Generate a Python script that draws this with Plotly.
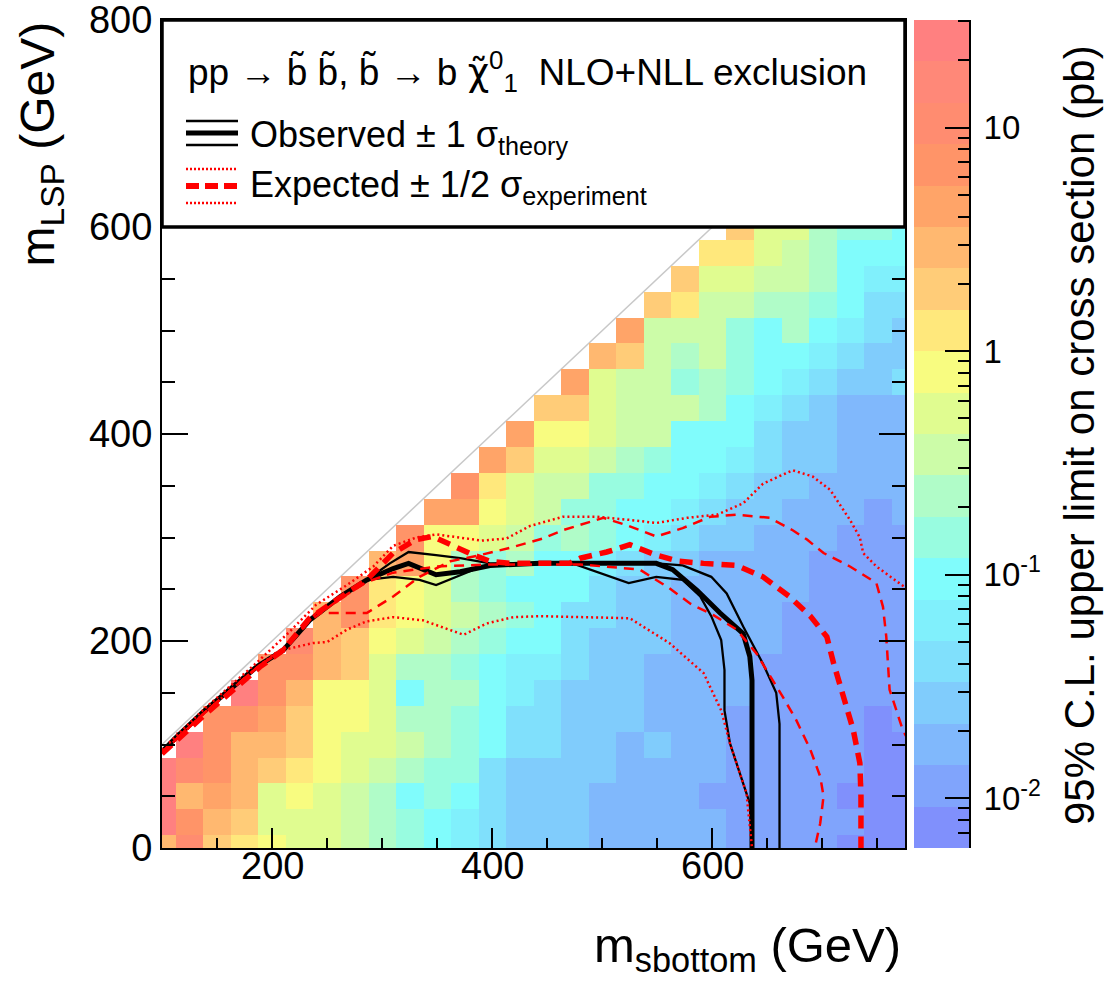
import numpy as np
import plotly.graph_objects as go

FONT = "Liberation Sans, Arial, Helvetica, sans-serif"

# ---------------- data ----------------
m_sbottom = [100, 125, 150, 175, 200, 225, 250, 275, 300, 325, 350, 375, 400, 425,
             450, 475, 500, 525, 550, 575, 600, 625, 650, 675, 700, 725, 750, 775]
m_lsp = [0, 25, 50, 75, 100, 125, 150, 175, 200, 225, 250, 275, 300, 325, 350, 375,
         400, 425, 450, 475, 500, 525, 550, 575, 600]
x_tick_vals = [200, 400, 600]
y_tick_vals = [0, 200, 400, 600, 800]

# 95% CL upper limit on cross section (pb); rows = m_lsp, cols = m_sbottom
xsec_limit = [
    [2.9, 10.4, 1.9, 1.24, 0.81, 0.53, 0.53, 0.34, 0.225, 0.147, 0.096, 0.062, 0.041, 0.027, 0.027, 0.027, 0.0174, 0.0174, 0.0174, 0.0174, 0.0174, 0.0113, 0.0113, 0.0113, 0.0113, 0.0074, 0.0074, 0.0074],
    [24.5, 6.8, 2.9, 1.9, 0.53, 0.53, 0.53, 0.34, 0.225, 0.147, 0.096, 0.062, 0.041, 0.027, 0.027, 0.027, 0.0174, 0.0174, 0.0174, 0.0174, 0.0174, 0.0113, 0.0113, 0.0113, 0.0113, 0.0113, 0.0074, 0.0074],
    [24.5, 2.9, 4.5, 2.9, 0.53, 0.81, 0.53, 0.34, 0.225, 0.096, 0.147, 0.096, 0.041, 0.027, 0.027, 0.027, 0.0174, 0.0174, 0.0174, 0.0174, 0.0113, 0.0113, 0.0113, 0.0113, 0.0113, 0.0074, 0.0074, 0.0074],
    [24.5, 10.4, 6.8, 2.9, 1.9, 1.24, 0.81, 0.53, 0.34, 0.225, 0.147, 0.147, 0.041, 0.027, 0.027, 0.027, 0.027, 0.0174, 0.0174, 0.0174, 0.0174, 0.0113, 0.0113, 0.0113, 0.0113, 0.0113, 0.0074, 0.0074],
    [None, 24.5, 6.8, 2.9, 2.9, 1.9, 0.81, 0.53, 0.53, 0.34, 0.225, 0.147, 0.096, 0.041, 0.041, 0.027, 0.027, 0.0174, 0.027, 0.0174, 0.0174, 0.0113, 0.0113, 0.0113, 0.0113, 0.0113, 0.0074, 0.0074],
    [None, None, 6.8, 6.8, 4.5, 1.9, 0.81, 0.81, 0.53, 0.225, 0.225, 0.147, 0.096, 0.041, 0.041, 0.027, 0.027, 0.027, 0.0174, 0.0174, 0.0174, 0.0113, 0.0113, 0.0113, 0.0113, 0.0113, 0.0074, 0.0113],
    [None, None, None, 24.5, 6.8, 2.9, 0.81, 0.81, 0.53, 0.096, 0.225, 0.225, 0.096, 0.062, 0.041, 0.027, 0.027, 0.027, 0.0174, 0.0174, 0.0174, 0.0174, 0.0113, 0.0113, 0.0113, 0.0113, 0.0113, 0.0113],
    [None] * 4 + [6.8, 6.8, 2.9, 1.9, 0.53, 0.225, 0.225, 0.147, 0.096, 0.062, 0.062, 0.041, 0.027, 0.027, 0.0174, 0.0174, 0.0174, 0.0174, 0.0113, 0.0113, 0.0113, 0.0113, 0.0113, 0.0113],
    [None] * 5 + [10.4, 2.9, 1.9, 0.81, 0.53, 0.34, 0.225, 0.147, 0.096, 0.096, 0.041, 0.027, 0.027, 0.027, 0.0174, 0.0174, 0.0174, 0.0174, 0.0113, 0.0113, 0.0113, 0.0113, 0.0113],
    [None] * 6 + [2.9, 6.8, 1.24, 0.81, 0.53, 0.34, 0.225, 0.147, 0.096, 0.041, 0.041, 0.027, 0.027, 0.0174, 0.0174, 0.0174, 0.0174, 0.0113, 0.0113, 0.0113, 0.0113, 0.0113],
    [None] * 7 + [6.8, 1.24, 0.81, 0.53, 0.225, 0.147, 0.096, 0.096, 0.096, 0.041, 0.027, 0.027, 0.0174, 0.0174, 0.0174, 0.0174, 0.0174, 0.0113, 0.0113, 0.0113, 0.0113],
    [None] * 8 + [2.9, 4.5, 0.81, 0.225, 0.147, 0.225, 0.096, 0.096, 0.062, 0.041, 0.027, 0.027, 0.0174, 0.0174, 0.0174, 0.0174, 0.0113, 0.0113, 0.0113, 0.0113],
    [None] * 9 + [6.8, 0.81, 0.81, 0.53, 0.34, 0.147, 0.225, 0.147, 0.096, 0.062, 0.041, 0.027, 0.027, 0.0174, 0.0174, 0.0174, 0.0113, 0.0113, 0.0113],
    [None] * 10 + [4.5, 4.5, 0.81, 0.53, 0.34, 0.147, 0.147, 0.096, 0.096, 0.062, 0.041, 0.027, 0.027, 0.0174, 0.0174, 0.0174, 0.0113, 0.0174],
    [None] * 11 + [6.8, 1.24, 0.53, 0.34, 0.34, 0.147, 0.147, 0.096, 0.096, 0.062, 0.041, 0.027, 0.027, 0.0174, 0.0174, 0.0174, 0.0174],
    [None] * 12 + [4.5, 1.9, 0.53, 0.53, 0.34, 0.225, 0.147, 0.096, 0.096, 0.062, 0.041, 0.027, 0.027, 0.0174, 0.0174, 0.0174],
    [None] * 13 + [4.5, 0.81, 0.81, 0.53, 0.34, 0.34, 0.096, 0.096, 0.096, 0.041, 0.027, 0.027, 0.0174, 0.0174, 0.0174],
    [None] * 14 + [1.9, 1.9, 0.53, 0.34, 0.34, 0.34, 0.225, 0.096, 0.062, 0.041, 0.027, 0.0174, 0.0174, 0.0174],
    [None] * 15 + [4.5, 0.53, 0.34, 0.34, 0.147, 0.225, 0.147, 0.096, 0.062, 0.041, 0.027, 0.027, 0.041],
    [None] * 16 + [2.9, 1.9, 0.34, 0.225, 0.34, 0.147, 0.096, 0.096, 0.062, 0.041, 0.027, 0.027],
    [None] * 17 + [4.5, 0.34, 0.34, 0.34, 0.147, 0.096, 0.225, 0.096, 0.062, 0.041, 0.027],
    [None] * 18 + [1.9, 1.24, 0.34, 0.34, 0.225, 0.225, 0.147, 0.096, 0.041, 0.041],
    [None] * 19 + [1.9, 0.53, 0.53, 0.34, 0.34, 0.225, 0.096, 0.062, 0.062],
    [None] * 20 + [1.24, 1.24, 0.53, 0.34, 0.225, 0.096, 0.096, 0.096],
    [None] * 21 + [1.9, 0.53, 0.53, 0.225, 0.147, 0.147, 0.096],
]

# exclusion contours (m_sbottom, m_lsp) in GeV
obs_x = [100, 112, 137, 162, 186, 210, 234, 262, 286, 310, 324, 349, 371, 398, 443, 500, 549, 564, 586, 607, 628, 634, 636, 636]
obs_y = [93, 106, 131, 153, 175, 191, 220, 243, 259, 270, 275, 264, 267, 273, 275, 275, 275, 269, 249, 227, 207, 185, 162, 0]

obs_up_x = [100, 112, 137, 162, 186, 210, 234, 262, 286, 307, 324, 349, 371, 398, 500, 549, 573, 599, 613, 628, 646, 658, 661, 661]
obs_up_y = [93, 106, 131, 153, 175, 191, 220, 243, 259, 275, 286, 283, 280, 275, 275, 275, 273, 262, 246, 214, 178, 150, 120, 0]

obs_dn_x = [100, 112, 137, 162, 186, 210, 234, 262, 286, 310, 334, 349, 365, 386, 401, 473, 524, 549, 573, 589, 599, 608, 611, 611, 616, 629, 634, 636]
obs_dn_y = [93, 106, 131, 153, 175, 191, 220, 243, 259, 262, 259, 254, 261, 270, 273, 275, 256, 262, 259, 243, 224, 201, 172, 133, 101, 59, 43, 0]

exp_x = [100, 113, 137, 165, 189, 210, 234, 259, 286, 310, 331, 346, 365, 383, 398, 416, 470, 480, 504, 525, 549, 570, 592, 622, 646, 670, 689, 704, 710, 719, 728, 734, 735, 735]
exp_y = [91, 104, 127, 153, 175, 191, 222, 240, 259, 285, 298, 301, 291, 283, 277, 275, 275, 280, 286, 293, 283, 277, 275, 273, 262, 243, 224, 204, 179, 146, 114, 82, 50, 0]

exp_up_x = [100, 137, 186, 210, 230, 240, 265, 286, 310, 334, 362, 389, 416, 446, 464, 501, 522, 549, 573, 598, 622, 652, 673, 686, 701, 725, 749, 755, 758, 761, 773, 780]
exp_up_y = [92, 129, 174, 193, 216, 227, 227, 227, 243, 262, 277, 283, 290, 299, 307, 319, 312, 301, 309, 320, 322, 319, 307, 298, 285, 272, 256, 233, 204, 153, 114, 100]

exp_dn_x = [100, 137, 186, 210, 234, 262, 286, 310, 350, 400, 480, 534, 561, 580, 601, 622, 640, 655, 664, 676, 689, 698, 701, 698, 693]
exp_dn_y = [92, 129, 174, 191, 219, 241, 257, 266, 272, 274, 274, 269, 251, 236, 225, 211, 188, 162, 146, 124, 95, 69, 50, 24, 0]

exp_up2_x = [100, 137, 186, 215, 240, 268, 292, 310, 331, 349, 370, 390, 413, 434, 464, 495, 525, 549, 577, 604, 628, 646, 673, 691, 707, 725, 734, 737, 749, 773, 780]
exp_up2_y = [95, 133, 179, 208, 235, 254, 272, 292, 300, 303, 300, 297, 299, 311, 320, 320, 317, 314, 319, 322, 333, 352, 365, 359, 346, 317, 300, 285, 272, 253, 248]

exp_dn2_x = [100, 137, 186, 205, 237, 250, 268, 286, 310, 337, 374, 395, 419, 443, 525, 561, 592, 608, 616, 631, 636]
exp_dn2_y = [92, 129, 174, 190, 198, 199, 211, 219, 223, 220, 206, 217, 223, 224, 222, 198, 169, 133, 101, 53, 0]

# colour palette (20 log-spaced contour levels)
band_colors = ["#8090fc", "#80a4fc", "#80b8fc", "#80ccfc", "#80e0fc", "#80f0fc", "#80fcfc",
               "#98fce0", "#b0fcc8", "#ccfca8", "#e0fc90", "#f8fc80", "#ffe87c", "#ffcc78",
               "#ffb870", "#ffa468", "#ff9468", "#ff8c70", "#ff8878", "#ff8080"]
ZMIN, ZMAX = -2.223, 1.482

# ---------------- figure ----------------
nb = len(band_colors)
cscale = []
for i, c in enumerate(band_colors):
    cscale.append([i / nb, c])
    cscale.append([(i + 1) / nb, c])

z = np.log10(np.array([[np.nan if v is None else v for v in row] for row in xsec_limit], dtype=float))

fig = go.Figure()
fig.add_trace(go.Heatmap(x=m_sbottom, y=m_lsp, z=z, colorscale=cscale, zmin=ZMIN, zmax=ZMAX,
                         showscale=False, hoverinfo="skip"))

# colour bar drawn as its own heatmap on a log-valued axis
edges = np.linspace(ZMIN, ZMAX, nb + 1)
centers = 0.5 * (edges[:-1] + edges[1:])
fig.add_trace(go.Heatmap(x=[0, 1], y=edges, z=[[c] for c in centers], colorscale=cscale,
                         zmin=ZMIN, zmax=ZMAX, showscale=False, hoverinfo="skip",
                         xaxis="x2", yaxis="y2"))

BLACK = "black"
RED = "#ff0000"
def add_line(x, y, color, width, dash="solid"):
    fig.add_trace(go.Scatter(x=x, y=y, mode="lines", hoverinfo="skip",
                             line=dict(color=color, width=width, dash=dash)))

add_line(obs_up_x, obs_up_y, BLACK, 2.3)
add_line(obs_dn_x, obs_dn_y, BLACK, 2.3)
add_line(obs_x, obs_y, BLACK, 5)
add_line(exp_up2_x, exp_up2_y, RED, 2.5, "2px,3px")
add_line(exp_dn2_x, exp_dn2_y, RED, 2.5, "2px,3px")
add_line(exp_up_x, exp_up_y, RED, 2.5, "10px,7px")
add_line(exp_dn_x, exp_dn_y, RED, 2.5, "10px,7px")
add_line(exp_x, exp_y, RED, 5.5, "13px,8px")

# geometry helpers (pixel -> paper)
L, R, T, B = 162, 139, 20, 135
W, H = 1108, 983
PW, PH = W - L - R, H - T - B
def px(x): return (x - L) / PW
def py(y): return (H - B - y) / PH

axis_common = dict(showline=True, linecolor=BLACK, linewidth=2, mirror="ticks",
                   ticks="inside", tickwidth=2, tickcolor=BLACK, showgrid=False,
                   zeroline=False, ticklabeloverflow="allow", automargin=False,
                   tickfont=dict(size=38, family=FONT, color=BLACK))

cb_minor = []
for e in (-3, -2, -1, 0, 1):
    for m in range(2, 10):
        v = float(np.log10(m * 10.0 ** e))
        if ZMIN < v < ZMAX:
            cb_minor.append(v)

fig.update_layout(
    width=W, height=H, margin=dict(l=L, r=R, t=T, b=B, autoexpand=False),
    paper_bgcolor="white", plot_bgcolor="white", showlegend=False,
    font=dict(family=FONT, color=BLACK),
    xaxis=dict(domain=[0, px(905)], range=[100, 775], tickvals=x_tick_vals, ticklen=20,
               showticklabels=False,
               minor=dict(tickmode="array", tickvals=[150, 250, 300, 350, 450, 500, 550, 650, 700, 750],
                          ticklen=10, tickwidth=2, tickcolor=BLACK, ticks="inside"),
               **axis_common),
    yaxis=dict(domain=[0, 1], range=[0, 800], tickvals=y_tick_vals, ticklen=26,
               minor=dict(tickmode="array", tickvals=[50, 100, 150, 250, 300, 350, 450, 500, 550, 650, 700, 750],
                          ticklen=13, tickwidth=2, tickcolor=BLACK, ticks="inside"),
               **axis_common),
    xaxis2=dict(domain=[px(914), px(969)], range=[0, 1], visible=False, anchor="y2", automargin=False),
    yaxis2=dict(domain=[0, 1], anchor="x2", side="right", range=[ZMIN, ZMAX],
                showline=True, linecolor=BLACK, linewidth=2, ticks="inside", ticklen=24,
                tickwidth=2, tickcolor=BLACK, showgrid=False, zeroline=False, automargin=False,
                ticklabelstandoff=6, ticklabeloverflow="allow",
                tickvals=[-2, -1, 0, 1], ticktext=["10<sup>-2</sup>", "10<sup>-1</sup>", "1", "10"],
                tickfont=dict(size=33, family=FONT, color=BLACK),
                minor=dict(tickmode="array", tickvals=cb_minor,
                           ticklen=11, tickwidth=2, tickcolor=BLACK, ticks="inside")),
)

shapes = []
# kinematic boundary m_LSP = m_sbottom
shapes.append(dict(type="line", xref="x", yref="y", x0=100, y0=100, x1=775, y1=775,
                   line=dict(color="#c8c8c8", width=1.5), layer="below"))
# legend box
shapes.append(dict(type="rect", xref="paper", yref="paper", x0=0, x1=px(905), y0=py(227), y1=1,
                   fillcolor="white", line=dict(color=BLACK, width=3.5), layer="above"))
# legend samples
lx0, lx1 = px(186), px(238)
for yy, wd in ((121, 2.3), (133, 5), (145, 2.3)):
    shapes.append(dict(type="line", xref="paper", yref="paper", x0=lx0, x1=lx1, y0=py(yy), y1=py(yy),
                       line=dict(color=BLACK, width=wd), layer="above"))
for yy, wd, ds in ((169, 2.5, "2px,2px"), (186, 6, "13px,6px"), (203, 2.5, "2px,2px")):
    shapes.append(dict(type="line", xref="paper", yref="paper", x0=lx0, x1=lx1, y0=py(yy), y1=py(yy),
                       line=dict(color=RED, width=wd, dash=ds), layer="above"))
fig.update_layout(shapes=shapes)

CHI = '<span style="font-family:DejaVu Sans">\u03c7\u0303</span>'
ann = []
# x tick labels
for v in x_tick_vals:
    ann.append(dict(x=v, y=py(866), xref="x", yref="paper", xanchor="center", yanchor="middle",
                    showarrow=False, font=dict(size=38, family=FONT, color=BLACK), text=str(v)))
ann.append(dict(x=px(186), y=py(72), xref="paper", yref="paper", xanchor="left", yanchor="middle",
                showarrow=False, font=dict(size=37, family=FONT, color=BLACK),
                text="pp \u2192 b\u0303 b\u0303, b\u0303 \u2192 b " + CHI + "<sup>0</sup><sub>1</sub>  NLO+NLL exclusion"))
ann.append(dict(x=px(248), y=py(137), xref="paper", yref="paper", xanchor="left", yanchor="middle",
                showarrow=False, font=dict(size=36, family=FONT, color=BLACK),
                text="Observed \u00b1 1 \u03c3<sub>theory</sub>"))
ann.append(dict(x=px(248), y=py(187), xref="paper", yref="paper", xanchor="left", yanchor="middle",
                showarrow=False, font=dict(size=36, family=FONT, color=BLACK),
                text="Expected \u00b1 1/2 \u03c3<sub>experiment</sub>"))
ann.append(dict(x=px(903), y=py(948), xref="paper", yref="paper", xanchor="right", yanchor="middle",
                showarrow=False, font=dict(size=49, family=FONT, color=BLACK),
                text="m<sub>sbottom</sub> (GeV)"))
ann.append(dict(x=px(40), y=1, xref="paper", yref="paper", xanchor="center", yanchor="top",
                showarrow=False, textangle=-90, font=dict(size=48, family=FONT, color=BLACK),
                text="m<sub>LSP</sub> (GeV)"))
ann.append(dict(x=px(1079), y=py(435), xref="paper", yref="paper", xanchor="center", yanchor="middle",
                showarrow=False, textangle=-90, font=dict(size=42, family=FONT, color=BLACK),
                text="95% C.L. upper limit on cross section (pb)"))
fig.update_layout(annotations=ann)

fig.write_html("out.html")
